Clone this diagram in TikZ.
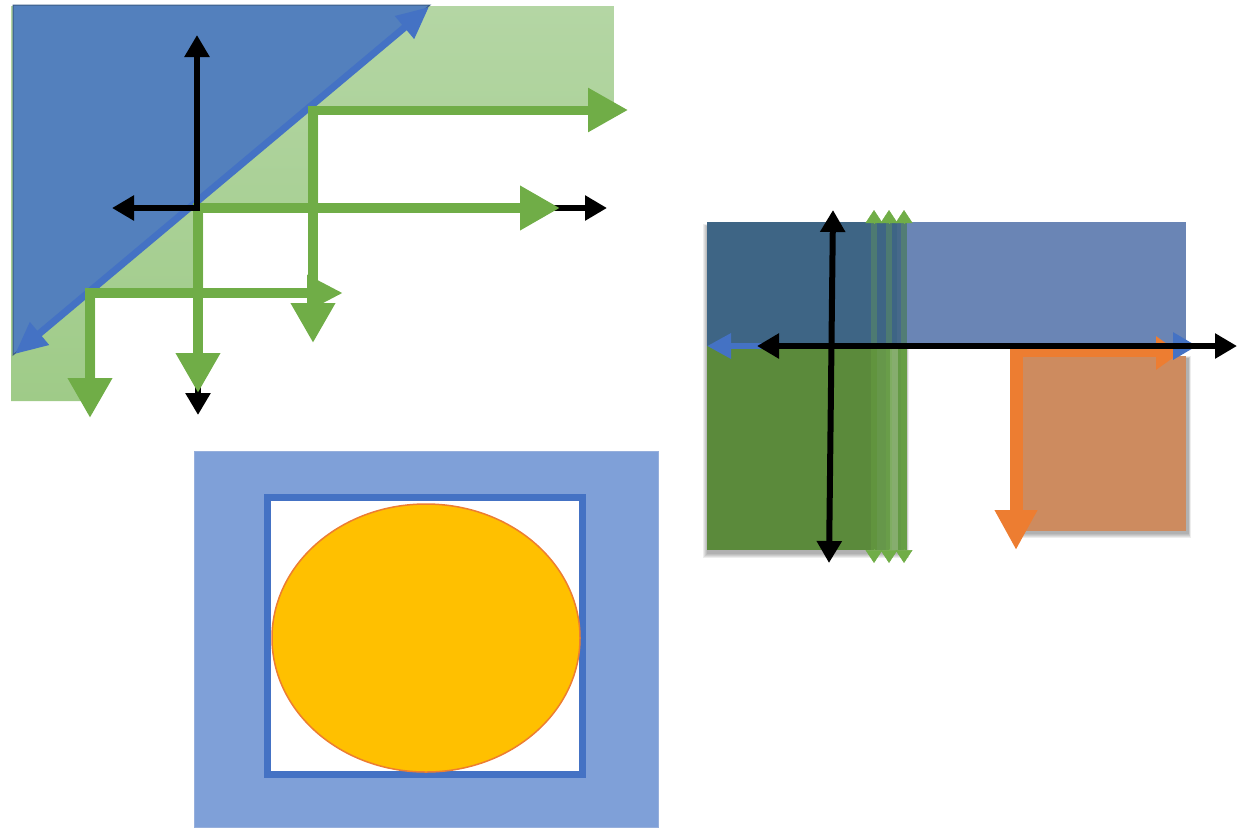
\documentclass[tikz,border=0pt]{standalone}
\usetikzlibrary{arrows.meta,shapes.geometric}
\definecolor{grn}{HTML}{70AD47}
\definecolor{blu}{HTML}{4472C4}
\definecolor{tri}{HTML}{5380BD}
\definecolor{org}{HTML}{ED7D31}
\definecolor{lgtop}{HTML}{B4D6A4}
\definecolor{lgbot}{HTML}{9FCB88}
\definecolor{rgreen}{HTML}{5B8A3B}
\definecolor{rstripa}{RGB}{102,151,74}
\definecolor{rstripb}{RGB}{134,173,110}
\definecolor{rstripc}{RGB}{100,154,69}
\definecolor{rteal}{RGB}{62,101,133}
\definecolor{rteal2}{RGB}{70,105,138}
\definecolor{rblue}{RGB}{106,133,181}
\definecolor{rorange}{RGB}{205,139,95}
\definecolor{bbox}{RGB}{127,160,216}
\definecolor{bboxe}{RGB}{150,175,220}
\definecolor{yel}{RGB}{255,192,0}
\begin{document}
\begin{tikzpicture}[x=1pt,y=-1pt,
  blkone/.style={line width=6pt,-{Triangle[length=22pt,width=24pt]}},
  blktwo/.style={line width=6pt,{Triangle[length=22pt,width=24pt]}-{Triangle[length=22pt,width=24pt]}},
  grnarr/.style={draw=grn,line width=10pt,-{Triangle[length=40pt,width=42pt]}},
  grntip/.style={draw=grn,line width=0.5pt,-{Triangle[length=13pt,width=17pt]}},
  grnshaft/.style={draw=grn,line width=6pt,opacity=0.3},
  shadowbox/.style={fill=black,opacity=0.07}]
\useasboundingbox (0,0) rectangle (1241,828);
% ---------- top-left ----------
\shade[top color=lgtop,bottom color=lgbot] (11,6) -- (614,6) -- (614,108) -- (318,108) -- (318,204) -- (203,204) -- (203,288) -- (95,288) -- (95,401) -- (11,401) -- cycle;
\fill[tri,draw=tri!70!black,line width=1pt] (13,5) -- (430,5) -- (13,355) -- cycle;
\coordinate (dA) at (15,354);
\coordinate (dB) at (429,7);
\draw[blu,line width=7pt,{Triangle[length=32pt,width=28pt]}-{Triangle[length=32pt,width=28pt]}] (dA) -- (dB);
% black arrows under green
\coordinate (bRs) at (545,208);
\coordinate (bRe) at (607,208);
\draw[blkone] (bRs) -- (bRe);
\coordinate (bDs) at (198,370);
\coordinate (bDe) at (198,415);
\draw[blkone] (bDs) -- (bDe);
% green arrows
\coordinate (g1) at (313,110);
\coordinate (g1r) at (628,110);
\coordinate (g1d) at (313,343);
\coordinate (g2) at (198,208);
\coordinate (g2r) at (560,208);
\coordinate (g2d) at (198,393);
\coordinate (g3) at (90,293);
\coordinate (g3r) at (343,293);
\coordinate (g3d) at (90,418);
\draw[grnarr] (g1) -- (g1d);
\draw[grnarr,line width=9pt] ([xshift=-5pt]g1) -- (g1r);
\draw[grnarr] ([yshift=-5pt]g2) -- (g2d);
\draw[grnarr] ([xshift=-5pt]g2) -- (g2r);
\draw[grnarr] ([yshift=-5pt]g3) -- (g3d);
\draw[grnarr,-{Triangle[length=36pt,width=34pt]}] ([xshift=-5pt]g3) -- (g3r);
% black cross top-left
\coordinate (bC) at (197,208);
\coordinate (bU) at (197,35);
\coordinate (bL) at (112,208);
\draw[blkone] ([yshift=3pt]bC) -- (bU);
\draw[blkone] ([xshift=3pt]bC) -- (bL);
% ---------- right ----------
\foreach \d in {0,1.5,3,4.5,6}{
  \fill[shadowbox] (707-\d*0.6,226-\d*0.3) rectangle (907+\d*0.3,554+\d*0.6);
  \fill[shadowbox] (1023-\d*0.3,358-\d*0.3) rectangle (1189+\d*0.3,534+\d*0.6);
}
\fill[rgreen] (707,346) rectangle (907,550);
\fill[rstripa] (877,346) rectangle (890,550);
\fill[rstripb] (890,346) rectangle (898,550);
\fill[rstripc] (898,346) rectangle (907,550);
\fill[rteal] (707,222) rectangle (897,346);
\fill[rteal2] (897,222) rectangle (907,346);
\fill[rblue] (907,222) rectangle (1186,346);
\fill[rorange] (1023,356) rectangle (1186,531);
% green triple arrows
\foreach \x/\n in {874/1,889/2,904/3}{
  \coordinate (t\n a) at (\x,210);
  \coordinate (t\n b) at (\x,563);
  \draw[grnshaft] (\x,222) -- (\x,550);
  \draw[grntip] (\x,224) -- (t\n a);
  \draw[grntip] (\x,549) -- (t\n b);
}
% orange L
\coordinate (oC) at (1016,353);
\coordinate (oD) at (1016,550);
\coordinate (oR) at (1180,353);
\draw[org,line width=8pt,-{Triangle[length=24pt,width=32pt]}] ([xshift=-6pt]oC) -- (oR);
\draw[org,line width=13pt,-{Triangle[length=40pt,width=40pt]}] (oC) -- (oD);
% blue double arrow
\coordinate (bl1) at (707,346);
\coordinate (bl2) at (1197,346);
\draw[blu,line width=6pt,{Triangle[length=24pt,width=24pt]}-{Triangle[length=24pt,width=26pt]}] (bl1) -- (bl2);
% black cross right
\coordinate (kL) at (757,346);
\coordinate (kR) at (1237,346);
\coordinate (kU) at (833,210);
\coordinate (kD) at (829,563);
\draw[blktwo] (kL) -- (kR);
\draw[blktwo] (kU) -- (kD);
% ---------- bottom ----------
\fill[bbox,draw=bboxe,line width=1pt] (194,451) rectangle (658,827);
\draw[blu,fill=white,line width=7pt] (267.5,497.5) rectangle (582.5,774.5);
\node[ellipse,minimum width=308pt,minimum height=268pt,fill=yel,draw=org,line width=1.5pt,inner sep=0pt] (ell) at (426,638) {};
\end{tikzpicture}
\end{document}
